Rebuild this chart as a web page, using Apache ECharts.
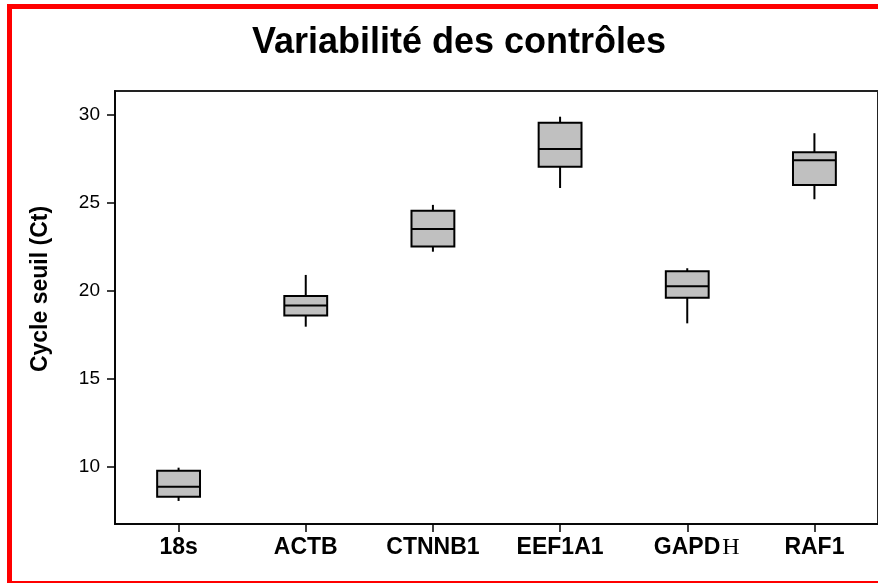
<!DOCTYPE html>
<html>
<head>
<meta charset="utf-8">
<script src="https://cdn.jsdelivr.net/npm/echarts@6/dist/echarts.min.js"></script>
<style>
html,body{margin:0;padding:0;background:#fff;}
#chart{width:878px;height:583px;}
</style>
</head>
<body>
<div id="chart"></div>
<script>
// ---- data ----
const categories = ['18s', 'ACTB', 'CTNNB1', 'EEF1A1', 'GAPDH', 'RAF1'];
const whiskerLow  = [8.07, 17.97, 22.23, 25.85, 18.16, 25.21];
const quartile1   = [8.31, 18.60, 22.52, 27.05, 19.62, 26.02];
const medians     = [8.88, 19.17, 23.52, 28.07, 20.27, 27.43];
const quartile3   = [9.79, 19.72, 24.55, 29.56, 21.12, 27.88];
const whiskerHigh = [9.96, 20.91, 24.89, 29.90, 21.29, 28.96];
const yTicks = [10, 15, 20, 25, 30];
const titleText = 'Variabilité des contrôles';
const yAxisTitle = 'Cycle seuil (Ct)';

const boxData = categories.map((c, i) => [i, whiskerLow[i], quartile1[i], medians[i], quartile3[i], whiskerHigh[i]]);

const chart = echarts.init(document.getElementById('chart'));

function renderBox(params, api) {
  const idx = api.value(0);
  const pLow = api.coord([idx, api.value(1)]);
  const pQ1 = api.coord([idx, api.value(2)]);
  const pMed = api.coord([idx, api.value(3)]);
  const pQ3 = api.coord([idx, api.value(4)]);
  const pHigh = api.coord([idx, api.value(5)]);
  const x = pMed[0];
  const half = api.size([1, 0])[0] * 0.337 / 2;
  const lineStyle = { stroke: '#000', lineWidth: 2 };
  return {
    type: 'group',
    children: [
      { type: 'line', shape: { x1: x, y1: pHigh[1], x2: x, y2: pQ3[1] }, style: lineStyle },
      { type: 'line', shape: { x1: x, y1: pQ1[1], x2: x, y2: pLow[1] }, style: lineStyle },
      { type: 'rect', shape: { x: x - half, y: pQ3[1], width: half * 2, height: pQ1[1] - pQ3[1] },
        style: { fill: '#c0c0c0', stroke: '#000', lineWidth: 2 } },
      { type: 'line', shape: { x1: x - half, y1: pMed[1], x2: x + half, y2: pMed[1] }, style: lineStyle }
    ]
  };
}

const option = {
  backgroundColor: '#fff',
  animation: false,
  grid: {
    left: 115, top: 91, width: 765, bottom: 59,
    show: true, borderColor: '#222', borderWidth: 2, backgroundColor: 'transparent'
  },
  xAxis: {
    type: 'category',
    data: categories,
    boundaryGap: true,
    axisLine: { lineStyle: { color: '#000', width: 1.5 } },
    axisTick: { show: true, interval: 0, alignWithLabel: true, length: 8, lineStyle: { color: '#000', width: 1.5 } },
    axisLabel: {
      interval: 0,
      hideOverlap: false,
      margin: 12,
      color: '#000',
      fontFamily: 'Liberation Sans, Arial, sans-serif',
      fontWeight: 'bold',
      fontSize: 23,
      formatter: function (v) {
        if (v === 'GAPDH') return '{pad|}{a|GAPD}{h|H}';
        return v;
      },
      rich: {
        pad: { width: 19 },
        a: { fontFamily: 'Liberation Sans, Arial, sans-serif', fontWeight: 'bold', fontSize: 23, color: '#000' },
        h: { fontFamily: 'Liberation Serif, Times New Roman, serif', fontWeight: 'normal', fontSize: 24, color: '#000', padding: [0, 0, 0, 2] }
      }
    },
    splitLine: { show: false }
  },
  yAxis: {
    type: 'value',
    min: 6.76,
    max: 31.36,
    axisLine: { show: true, lineStyle: { color: '#000', width: 1.5 } },
    axisTick: { show: true, length: 8, customValues: yTicks, lineStyle: { color: '#000', width: 1.5 } },
    axisLabel: {
      customValues: yTicks,
      margin: 15,
      color: '#000',
      fontFamily: 'Liberation Sans, Arial, sans-serif',
      fontSize: 19
    },
    splitLine: { show: false }
  },
  graphic: [
    {
      type: 'rect',
      shape: { x: 9.5, y: 6.5, width: 900, height: 577 },
      style: { fill: 'none', stroke: '#ff0000', lineWidth: 5 },
      z: 100
    },
    {
      type: 'text',
      x: 459, y: 43,
      style: {
        text: titleText,
        fill: '#000',
        font: 'bold 36px "Liberation Sans", Arial, sans-serif',
        textAlign: 'center',
        textVerticalAlign: 'middle'
      }
    },
    {
      type: 'text',
      x: 41, y: 289,
      rotation: Math.PI / 2,
      style: {
        text: yAxisTitle,
        fill: '#000',
        font: 'bold 23px "Liberation Sans", Arial, sans-serif',
        textAlign: 'center',
        textVerticalAlign: 'middle'
      }
    }
  ],
  series: [
    {
      type: 'custom',
      renderItem: renderBox,
      data: boxData,
      encode: { x: 0, y: [1, 2, 3, 4, 5] },
      clip: false
    }
  ]
};

chart.setOption(option);
</script>
</body>
</html>
